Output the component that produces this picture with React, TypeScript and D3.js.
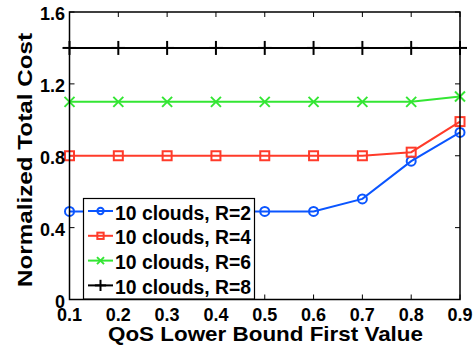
import React from "react";
import * as d3 from "d3";

const xValues = [0.1, 0.2, 0.3, 0.4, 0.5, 0.6, 0.7, 0.8, 0.9];
const seriesR2 = [0.49, 0.49, 0.49, 0.49, 0.49, 0.49, 0.56, 0.77, 0.93];
const seriesR4 = [0.8, 0.8, 0.8, 0.8, 0.8, 0.8, 0.8, 0.82, 0.99];
const seriesR6 = [1.1, 1.1, 1.1, 1.1, 1.1, 1.1, 1.1, 1.1, 1.13];
const seriesR8 = [1.4, 1.4, 1.4, 1.4, 1.4, 1.4, 1.4, 1.4, 1.4];
const seriesLabels = ["10 clouds, R=2", "10 clouds, R=4", "10 clouds, R=6", "10 clouds, R=8"];
const seriesColors = ["#0a55ff", "#ff3b2a", "#33e633", "#000000"];
const seriesMarkers = ["circle", "square", "x", "plus"];
const xTicks = [0.1, 0.2, 0.3, 0.4, 0.5, 0.6, 0.7, 0.8, 0.9];
const yTicks = [0, 0.4, 0.8, 1.2, 1.6];
const xTitle = "QoS Lower Bound First Value";
const yTitle = "Normalized Total Cost";

const FONT = "'Liberation Sans', Arial, Helvetica, sans-serif";

function Marker({ type, x, y, color, s }: { type: string; x: number; y: number; color: string; s: number }) {
  const sw = 2;
  if (type === "circle")
    return <circle cx={x} cy={y} r={s * 0.45} fill="none" stroke={color} strokeWidth={sw} />;
  if (type === "square")
    return <rect x={x - s * 0.45} y={y - s * 0.45} width={s * 0.9} height={s * 0.9} fill="none" stroke={color} strokeWidth={sw} />;
  if (type === "x") {
    const h = s * 0.5;
    return (
      <g stroke={color} strokeWidth={sw}>
        <line x1={x - h} y1={y - h} x2={x + h} y2={y + h} />
        <line x1={x - h} y1={y + h} x2={x + h} y2={y - h} />
      </g>
    );
  }
  const h = s * 0.7;
  return (
    <g stroke={color} strokeWidth={sw}>
      <line x1={x - h} y1={y} x2={x + h} y2={y} />
      <line x1={x} y1={y - h} x2={x} y2={y + h} />
    </g>
  );
}

export default function App() {
  const W = 475, H = 351;
  const left = 69.5, right = 460, top = 12, bottom = 299.5;
  const x = d3.scaleLinear().domain([0.1, 0.9]).range([left, right]);
  const y = d3.scaleLinear().domain([0, 1.6]).range([bottom, top]);
  const series = [seriesR2, seriesR4, seriesR6, seriesR8];
  const line = d3.line<number>().x((_, i) => x(xValues[i])).y((d) => y(d));
  const tl = 5;

  const legX = 83.5, legY = 198.5, legW = 171, legH = 100.5;

  return (
    <svg width={W} height={H} style={{ position: "absolute", left: 0, top: 0 }} fontFamily={FONT} fontWeight="bold">
      <rect width={W} height={H} fill="#fff" />
      {/* ticks */}
      <g stroke="#000" strokeWidth={1}>
        {xTicks.map((t) => (
          <g key={"xt" + t}>
            <line x1={x(t)} x2={x(t)} y1={bottom} y2={bottom - tl} />
            <line x1={x(t)} x2={x(t)} y1={top} y2={top + tl} />
          </g>
        ))}
        {yTicks.map((t) => (
          <g key={"yt" + t}>
            <line x1={left} x2={left + tl} y1={y(t)} y2={y(t)} />
            <line x1={right} x2={right - tl} y1={y(t)} y2={y(t)} />
          </g>
        ))}
      </g>
      {/* series */}
      {series.map((s, si) => (
        <g key={"s" + si}>
          <path d={line(s) || ""} fill="none" stroke={seriesColors[si]} strokeWidth={2} />
          {s.map((v, i) => (
            <Marker key={i} type={seriesMarkers[si]} x={x(xValues[i])} y={y(v)} color={seriesColors[si]} s={si === 3 ? 10 : 10} />
          ))}
        </g>
      ))}
      {/* axes box */}
      <rect x={left} y={top} width={right - left} height={bottom - top} fill="none" stroke="#000" strokeWidth={1.5} />
      {/* tick labels */}
      {xTicks.map((t) => (
        <text key={"xl" + t} x={x(t)} y={321} textAnchor="middle" fontSize={18}>
          {d3.format(".1f")(t)}
        </text>
      ))}
      {yTicks.map((t) => (
        <text key={"yl" + t} x={65} y={y(t) + 8} textAnchor="end" fontSize={18}>
          {t === 0 ? "0" : d3.format(".1f")(t)}
        </text>
      ))}
      {/* titles */}
      <text x={265.5} y={341} textAnchor="middle" fontSize={20.5} textLength={315} lengthAdjust="spacingAndGlyphs">
        {xTitle}
      </text>
      <text
        transform={`translate(31.5,160) rotate(-90)`}
        textAnchor="middle"
        fontSize={20.5}
        textLength={254}
        lengthAdjust="spacingAndGlyphs"
      >
        {yTitle}
      </text>
      {/* legend */}
      <rect x={legX} y={legY} width={legW} height={legH} fill="#fff" stroke="#000" strokeWidth={1.2} />
      {seriesLabels.map((lab, i) => {
        const cy = 211 + i * 24.8;
        return (
          <g key={"lg" + i}>
            <line x1={88} x2={113} y1={cy} y2={cy} stroke={seriesColors[i]} strokeWidth={2} />
            <Marker type={seriesMarkers[i]} x={100.5} y={cy} color={seriesColors[i]} s={i === 3 ? 8 : 7} />
            <text x={115} y={cy + 8.5} fontSize={19.5} textLength={136} lengthAdjust="spacingAndGlyphs">
              {lab}
            </text>
          </g>
        );
      })}
    </svg>
  );
}
